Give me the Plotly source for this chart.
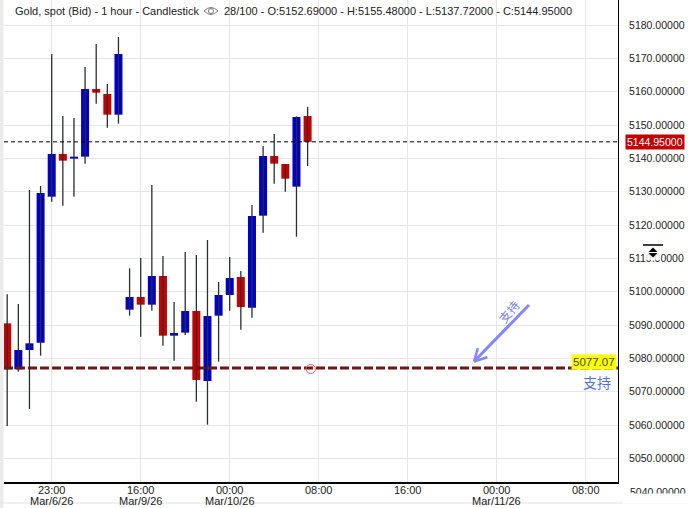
import math
import pandas as pd
import plotly.graph_objects as go

# ---------------- data ----------------
candle_times = [
    "2026-03-06 19:00", "2026-03-06 20:00", "2026-03-06 21:00", "2026-03-06 22:00", "2026-03-06 23:00",
    "2026-03-07 00:00", "2026-03-07 01:00", "2026-03-07 02:00", "2026-03-07 03:00", "2026-03-07 04:00",
    "2026-03-07 05:00",
    "2026-03-09 15:00", "2026-03-09 16:00", "2026-03-09 17:00", "2026-03-09 18:00", "2026-03-09 19:00",
    "2026-03-09 20:00", "2026-03-09 21:00", "2026-03-09 22:00", "2026-03-09 23:00",
    "2026-03-10 00:00", "2026-03-10 01:00", "2026-03-10 02:00", "2026-03-10 03:00", "2026-03-10 04:00",
    "2026-03-10 05:00", "2026-03-10 06:00", "2026-03-10 07:00",
]
open_ = [5090.5, 5076.7, 5082.5, 5084.7, 5128.5, 5141.3, 5139.9, 5140.5, 5160.8, 5159.3,
         5153.1, 5094.6, 5098.4, 5096.1, 5104.7, 5086.8, 5087.7, 5094.2, 5073.2, 5092.8,
         5099.0, 5104.4, 5095.2, 5122.8, 5140.7, 5138.3, 5131.5, 5152.69]
high = [5099.2, 5096.3, 5130.5, 5131.7, 5171.3, 5152.7, 5152.1, 5167.4, 5174.3, 5162.3,
        5176.4, 5107.0, 5110.1, 5132.0, 5110.7, 5096.9, 5111.9, 5111.0, 5115.5, 5102.9,
        5110.4, 5106.2, 5126.0, 5143.7, 5147.3, 5138.3, 5152.6, 5155.48]
low = [5059.7, 5076.0, 5064.8, 5080.8, 5127.0, 5125.8, 5128.5, 5138.4, 5156.4, 5149.2,
       5150.4, 5092.8, 5086.5, 5094.3, 5083.8, 5079.3, 5087.0, 5067.0, 5060.1, 5079.0,
       5094.3, 5088.6, 5092.2, 5117.7, 5132.4, 5130.0, 5116.5, 5137.72]
close = [5076.7, 5082.5, 5084.5, 5129.6, 5141.3, 5139.3, 5140.5, 5160.8, 5159.7, 5153.1,
         5171.3, 5098.4, 5096.1, 5104.7, 5086.8, 5087.6, 5094.2, 5073.5, 5092.7, 5099.0,
         5104.1, 5095.4, 5122.7, 5140.7, 5138.4, 5133.9, 5152.4, 5144.95]

tick_times = ["2026-03-06 23:00", "2026-03-09 16:00", "2026-03-10 00:00", "2026-03-10 08:00",
              "2026-03-10 16:00", "2026-03-11 00:00", "2026-03-11 08:00"]
tick_hours = ["23:00", "16:00", "00:00", "08:00", "16:00", "00:00", "08:00"]
tick_dates = ["Mar/6/26", "Mar/9/26", "Mar/10/26", "", "", "Mar/11/26", ""]

support_level = 5077.07
support_text = "支持"
title_left = "Gold, spot (Bid) - 1 hour - Candlestick"
title_right = "28/100 - O:5152.69000 - H:5155.48000 - L:5137.72000 - C:5144.95000"

# ---------------- derived ----------------
future = pd.date_range(pd.Timestamp(candle_times[-1]) + pd.Timedelta(hours=1), periods=40, freq="h")
slots = candle_times + [t.strftime("%Y-%m-%d %H:%M") for t in future]
xs = list(range(len(candle_times)))
tickvals = [slots.index(t) for t in tick_times]

UP, DN = "#0000c8", "#c80000"
colors = [UP if c >= o else DN for o, c in zip(open_, close)]
last_close = close[-1]

# pixel geometry helpers (plot area: x 4..618, y 0..482)
PL, PR, PT, PB = 4, 618, 0, 482
def px(x):
    return (x - PL) / (PR - PL)
def py(y):
    return 1 - (y - PT) / (PB - PT)

FONT = "Liberation Sans, Arial, sans-serif"

fig = go.Figure()

# wicks
wx, wy = [], []
for i, h, l in zip(xs, high, low):
    wx += [i, i, None]
    wy += [l, h, None]
fig.add_trace(go.Scatter(x=wx, y=wy, mode="lines", line=dict(color="#2b2f2f", width=1.3),
                         hoverinfo="skip", showlegend=False))
# bodies
fig.add_trace(go.Bar(x=xs, base=[min(o, c) for o, c in zip(open_, close)],
                     y=[max(abs(c - o), 0.45) for o, c in zip(open_, close)],
                     width=0.72, marker=dict(color=colors, line=dict(width=0)),
                     hoverinfo="skip", showlegend=False))

shapes = []
shapes.append(dict(type="line", xref="paper", yref="y", x0=0, x1=1, y0=last_close, y1=last_close,
                   line=dict(color="#000000", width=1, dash="4px,3px"), layer="above"))
shapes.append(dict(type="line", xref="paper", yref="y", x0=0, x1=1, y0=support_level, y1=support_level,
                   line=dict(color="#6b1717", width=3, dash="9px,3px"), layer="above"))
cx, cy, r = 310.7, 369, 4.6
shapes.append(dict(type="circle", xref="paper", yref="paper", x0=px(cx - r), x1=px(cx + r),
                   y0=py(cy + r), y1=py(cy - r), line=dict(color="#ff5555", width=1), layer="above"))
tail = (529, 305)
tip = (474, 361.5)
shapes.append(dict(type="line", xref="paper", yref="paper", x0=px(tail[0]), y0=py(tail[1]),
                   x1=px(tip[0]), y1=py(tip[1]), line=dict(color="#8585ff", width=3), layer="above"))
dx, dy = tail[0] - tip[0], tail[1] - tip[1]
n = math.hypot(dx, dy)
ux, uy = dx / n, dy / n
for ang in (28, -28):
    a = math.radians(ang)
    rx = ux * math.cos(a) - uy * math.sin(a)
    ry = ux * math.sin(a) + uy * math.cos(a)
    L = 14
    shapes.append(dict(type="line", xref="paper", yref="paper", x0=px(tip[0]), y0=py(tip[1]),
                       x1=px(tip[0] + L * rx), y1=py(tip[1] + L * ry),
                       line=dict(color="#8585ff", width=2.5), layer="above"))
shapes.append(dict(type="rect", xref="paper", yref="paper", x0=px(0), x1=px(3.5), y0=py(508), y1=py(0),
                   fillcolor="#ececec", line=dict(width=0), layer="above"))
shapes.append(dict(type="line", xref="paper", yref="paper", x0=px(0), x1=px(689), y0=py(503), y1=py(503),
                   line=dict(color="#e2e2e2", width=1), layer="above"))
shapes.append(dict(type="path", xref="paper", yref="paper",
                   path=f"M {px(204)} {py(11)} Q {px(211)} {py(4)} {px(218)} {py(11)} Q {px(211)} {py(18)} {px(204)} {py(11)} Z",
                   line=dict(color="#777777", width=1), layer="above"))
shapes.append(dict(type="circle", xref="paper", yref="paper", x0=px(208.5), x1=px(213.5), y0=py(13.5), y1=py(8.5),
                   line=dict(color="#777777", width=1), layer="above"))
shapes.append(dict(type="rect", xref="paper", yref="paper", x0=px(645), x1=px(661), y0=py(260), y1=py(247),
                   fillcolor="rgba(255,255,255,0.8)", line=dict(width=0), layer="above"))
shapes.append(dict(type="line", xref="paper", yref="paper", x0=px(643), x1=px(663), y0=py(245), y1=py(245),
                   line=dict(color="#000000", width=1.5), layer="above"))
shapes.append(dict(type="path", xref="paper", yref="paper",
                   path=f"M {px(653)} {py(247.5)} L {px(648.5)} {py(252)} L {px(657.5)} {py(252)} Z",
                   fillcolor="#000000", line=dict(width=0), layer="above"))
shapes.append(dict(type="path", xref="paper", yref="paper",
                   path=f"M {px(648.5)} {py(253)} L {px(657.5)} {py(253)} L {px(653)} {py(257.5)} Z",
                   fillcolor="#000000", line=dict(width=0), layer="above"))

annotations = []
annotations.append(dict(xref="paper", yref="paper", x=px(13), y=py(10.5), xanchor="left", yanchor="middle",
                        text=title_left, showarrow=False, font=dict(family=FONT, size=11, color="#222222")))
annotations.append(dict(xref="paper", yref="paper", x=px(221.5), y=py(10.5), xanchor="left", yanchor="middle",
                        text=title_right, showarrow=False, font=dict(family=FONT, size=11, color="#222222")))
for tv, d in zip(tickvals, tick_dates):
    if d:
        annotations.append(dict(xref="x", yref="paper", x=tv, y=py(501), xanchor="center", yanchor="middle",
                                text=d, showarrow=False, borderpad=0,
                                font=dict(family=FONT, size=11, color="#222222")))
annotations.append(dict(xref="paper", yref="paper", x=px(628), y=py(492.5), xanchor="left", yanchor="middle",
                        text="5040.00000", showarrow=False, font=dict(family=FONT, size=10.5, color="#222222")))
annotations.append(dict(xref="paper", yref="paper", x=px(622), y=py(493), xanchor="left", yanchor="top",
                        text="", width=66, height=9, bgcolor="#ffffff", showarrow=False, borderpad=0))
annotations.append(dict(xref="paper", yref="y", x=px(625), y=last_close, xanchor="left", yanchor="middle",
                        text=f"{last_close:.5f}", showarrow=False, bgcolor="#c00000", borderpad=1,
                        font=dict(family=FONT, size=10.5, color="#ffffff")))
annotations.append(dict(xref="paper", yref="paper", x=px(616.5), y=py(361.5), xanchor="right", yanchor="middle",
                        text=f"{support_level:.2f}", showarrow=False, bgcolor="#ffff00", borderpad=1,
                        font=dict(family=FONT, size=11.5, color="#3d4a00")))
annotations.append(dict(xref="paper", yref="paper", x=px(597), y=py(382), xanchor="center", yanchor="middle",
                        text=support_text, showarrow=False,
                        font=dict(family="Noto Sans CJK SC", size=14, color="#4f6fe8")))
annotations.append(dict(xref="paper", yref="paper", x=px(508), y=py(311), xanchor="center", yanchor="middle",
                        text=support_text, showarrow=False, textangle=-51,
                        font=dict(family="Noto Sans CJK SC", size=12, color="#6d80f0")))

fig.update_layout(
    width=689, height=508,
    margin=dict(l=PL, r=689 - PR, t=PT, b=508 - PB),
    paper_bgcolor="#ffffff", plot_bgcolor="#ffffff",
    showlegend=False, hovermode=False,
    shapes=shapes, annotations=annotations,
    xaxis=dict(range=[-0.288, 54.9], tickvals=tickvals, ticktext=tick_hours,
               showgrid=True, gridcolor="#e6e6e6", gridwidth=1, zeroline=False,
               showline=True, linecolor="#000000", linewidth=1.5,
               ticks="", ticklabelstandoff=-3,
               tickfont=dict(family=FONT, size=11, color="#222222"), fixedrange=True),
    yaxis=dict(side="right", range=[5042.9, 5187.5], tick0=5040, dtick=10, tickformat=".5f",
               showgrid=True, gridcolor="#e6e6e6", gridwidth=1, zeroline=False,
               showline=True, linecolor="#000000", linewidth=1,
               ticks="outside", ticklen=8, tickcolor="rgba(0,0,0,0)",
               tickfont=dict(family=FONT, size=10.5, color="#222222"), fixedrange=True),
)

fig.write_html("out.html", config={"displayModeBar": False},
               post_script="document.body.style.margin='0';document.body.style.overflow='hidden';")
